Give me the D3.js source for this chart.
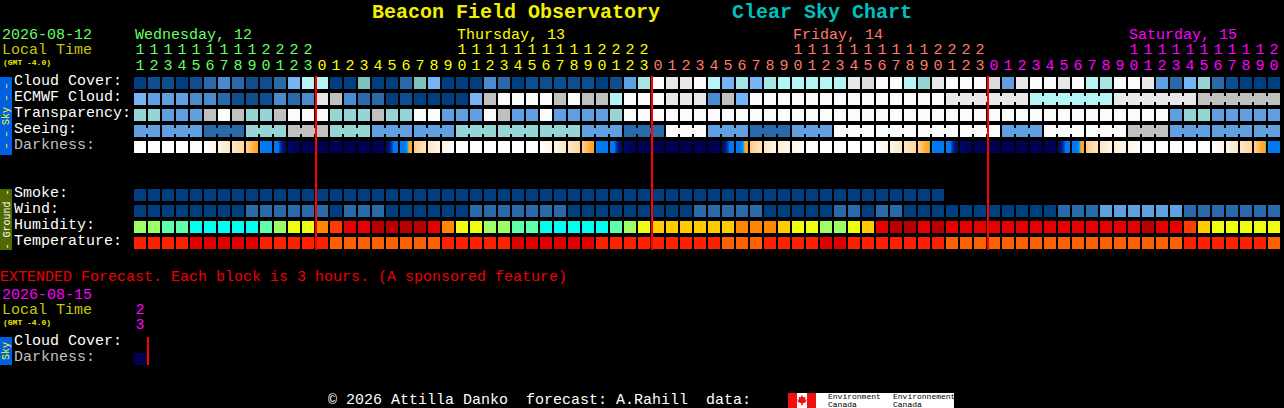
<!DOCTYPE html>
<html><head><meta charset="utf-8">
<script src="https://cdn.jsdelivr.net/npm/d3@7"></script>
<style>
html,body{margin:0;padding:0;background:#000;overflow:hidden}
svg{display:block}
text{font-family:"Liberation Mono",monospace;font-size:15px;white-space:pre}
</style></head><body><div id="c"></div>
<script>
// ---- categories and text
const skyLabels=["Cloud Cover:","ECMWF Cloud:","Transparency:","Seeing:","Darkness:"];
const groundLabels=["Smoke:","Wind:","Humidity:","Temperature:"];
const hours=[11,12,13,14,15,16,17,18,19,20,21,22,23,
 0,1,2,3,4,5,6,7,8,9,10,11,12,13,14,15,16,17,18,19,20,21,22,23,
 0,1,2,3,4,5,6,7,8,9,10,11,12,13,14,15,16,17,18,19,20,21,22,23,
 0,1,2,3,4,5,6,7,8,9,10,11,12,13,14,15,16,17,18,19,20];
const dayNames=["Wednesday, 12","Thursday, 13","Friday, 14","Saturday, 15"];
const dayColumns=[0,23,47,71];
const dayStarts=[0,13,37,61];
const dayColors=["#66ff66","#ffff00","#ff7b6b","#ff00ff"];
const midnightColumns=[13,37,61];

// ---- sky colour levels
const skyLevels=["#003f7f","#0f4f8f","#2a6aaa","#4a8ace","#60a0e0","#75b5f5","#80c0c0","#95d5d5","#a5e5e5","#b5f5f5","#c0c0c0","#dcdcdc","#e8e8e8","#fbfbfb"];

// ---- series (level index per hour)
const cloudCover=[0,1,1,0,1,2,3,2,1,1,2,5,9,9,0,0,6,0,0,2,6,5,0,0,0,3,2,0,1,1,1,1,1,0,1,4,8,13,12,12,13,9,5,8,5,8,9,9,9,9,9,12,
 11,13,13,9,7,12,13,13,13,11,4,12,13,13,12,13,9,8,13,13,12,4,2,5,7,2,1,0,0,0];
const ecmwfCloud=[5,4,4,4,3,3,2,1,1,1,3,2,3,12,10,3,2,2,0,1,0,0,0,0,5,10,13,13,13,13,10,13,10,10,9,13,13,13,12,12,12,3,10,5,13,13,13,13,13,13,13,13,
 13,13,13,13,13,13,12,12,12,12,12,12,9,9,9,9,9,9,12,12,12,12,12,12,10,10,10,10,10,10];
const ecmwfSpans=[1,1,1,1,1,1,1,1,1,1,1,1,1,1,1,1,1,1,1,1,1,1,1,1,1,1,1,1,1,1,1,1,1,1,1,1,1,1,1,1,1,1,1,1,1,1,1,1,1,1,1,1,1,1,1,1,1,1,6,6,6,6];
const transparency=[7,7,4,4,4,10,13,10,7,7,10,13,13,13,7,7,7,10,7,7,13,13,4,4,4,13,10,4,4,13,4,4,4,4,7,
 13,13,13,13,13,13,13,13,13,13,13,13,13,13,13,13,13,13,13,13,13,13,13,13,13,13,13,13,13,13,13,13,13,13,13,13,13,13,13,4,7,7,4,4,4,4,4];
const seeingBlocks=[4,4,2,7,10,7,4,4,7,7,7,4,2,13,4,2,4,13,13,13,13,4,13,13,10,4,4,4];
const seeingSpans=[2,3,3,3,3,3,3,3,3,3,3,3,3,3,3,3,3,3,3,3,3,3,3,3,3,3,3,2];
// darkness at the left and right edge of each hour block
const darkStart=[0,0,0,0,0,0,1,2,2.8,4.7,5.6,9,9.5,9.5,9.5,9.5,9.5,9.5,9,5.6,3,2,1,0,0,0,0,0,0,0,1,2,2.8,4.7,5.6,9,9.5,9.5,9.5,9.5,9.5,9.5,9,5.6,3,2,1.4,1,0,0,0,0,
 0,0,1,2,2.8,4.7,5.6,9,9.5,9.5,9.5,9.5,9.5,9.5,9,5.6,3,2,1.4,1,0,0,0,0,0,0,1,2,2.8,4.7];
const darkEnd=[0,0,0,0,0,1,2,2.6,4.35,5.5,9,9.5,9.5,9.5,9.5,9.5,9.5,9.5,5.5,4,2,1,0.4,0,0,0,0,0,0,1,2,2.6,4.4,5.5,9,9.5,9.5,9.5,9.5,9.5,9.5,9.5,5.5,4,2,1,1,0.3,0,0,0,0,
 0,1,2,2.6,4.52,5.5,9,9.5,9.5,9.5,9.5,9.5,9.5,9.5,5.5,4,2,1,1,0.2,0,0,0,0,0,1,2,2.6,4.52,5.5];
const darkLevels=[0,1,2,3,4,4.4,4.5,4.6,4.8,6.8,7.3,8,9,9.5];
const darkColors=["#ffffff","#fff5e6","#ffe6c4","#ffcb85","#ffa626","#ffa626","#30d0a0","#00a8ff","#0078f0","#0078f0","#0a3aa8","#00187a","#000a60","#000055"];
const smoke=[0,0,0,0,0,0,0,0,0,0,0,0,0,0,0,0,0,0,0,0,0,0,0,0,0,0,0,0,0,0,0,0,0,0,0,0,0,0,0,0,0,0,0,0,0,0,0,0,0,0,0,0,0,0,0,0,0,0];
const wind=[0,0,0,0,0,0,0,0,2,2,2,2,2,2,0,2,2,2,0,0,0,0,0,0,2,2,2,2,2,2,2,0,0,0,0,0,0,0,0,0,2,2,2,2,2,0,0,0,0,0,2,2,
 0,2,2,0,0,0,0,0,0,0,0,0,0,0,2,2,2,4,4,4,4,4,4,2,2,2,2,2,2,2];
const humidityColors={L:"#9cff66",M:"#5cffaa",C:"#00ffee",Y:"#eeff10",O:"#ffcc00",o:"#ff8800",r:"#ff3c00",R:"#e60000",D:"#b80000"};
const humidity=["L","L","M","M","C","C","C","C","C","M","L","Y","Y","o","r","R","R","D","D","D","D","R","o","Y","Y","L","L","M","M","C","C","C","C","C","M","L","Y","O","O","O","O","O","O","o","o","o","O","Y","Y","L","L","Y",
 "O","R","D","D","R","D","R","R","R","R","R","R","R","R","R","R","R","R","R","R","D","R","R","r","O","Y","Y","Y","Y","Y"];
const temperatureColors={a:"#ff2000",b:"#e00000",c:"#ff6000"};
const temperature=["a","a","a","a","b","b","b","b","b","a","a","a","a","a","c","c","c","c","c","c","c","c","a","a","a","a","a","b","b","b","b","b","b","a","a","a","a","a","a","a","a","a","c","c","c","a","a","a","a","b","b","a",
 "a","a","a","a","a","a","c","c","c","c","c","c","c","c","c","c","c","c","c","c","c","c","c","a","a","a","a","a","a","c"];
const extendedHours=[23];
const extendedDarkness=[9.5];

// ---- scales
const W=1284,H=408;
const x=d3.scaleLinear().domain([0,82]).range([134,1282]);
const ySky=d3.scaleLinear().domain([0,5]).range([77,157]);
const yGround=d3.scaleLinear().domain([0,4]).range([189,253]);
const cell=12;
const darkScale=d3.scaleLinear().domain(darkLevels).range(darkColors).interpolate(d3.interpolateRgb);
const skyColor=d3.scaleOrdinal().domain(d3.range(skyLevels.length)).range(skyLevels);

const svg=d3.select("#c").append("svg").attr("width",W).attr("height",H).attr("viewBox",[0,0,W,H]);
svg.append("rect").attr("width",W).attr("height",H).attr("fill","#000");
const T=(s,px,py,fill,o={})=>{const t=svg.append("text").attr("x",px).attr("y",py).attr("fill",fill).text(s);
 if(o.size)t.style("font-size",o.size+"px");if(o.weight)t.style("font-weight",o.weight);if(o.anchor)t.attr("text-anchor",o.anchor);return t;};

// title
T("Beacon Field Observatory",372,18,"#f0f000",{size:20,weight:"bold"});
T("Clear Sky Chart",732,18,"#00c0c0",{size:20,weight:"bold"});

// header
T("2026-08-12",2,39,"#66ff66");
T("Local Time",2,54,"#c8c800");
T("(GMT -4.0)",3,65,"#e8e800",{size:8,weight:"bold"});
dayNames.forEach((d,i)=>T(d,x(dayColumns[i])+1,39,dayColors[i]));
const dayOf=c=>d3.bisectRight(dayStarts,c)-1;
svg.append("g").selectAll("text").data(hours.map((h,c)=>({h,c})).filter(d=>d.h>=10)).join("text")
 .attr("x",d=>x(d.c)+cell/2).attr("y",54).attr("text-anchor","middle").attr("fill",d=>dayColors[dayOf(d.c)]).text(d=>Math.floor(d.h/10));
svg.append("g").selectAll("text").data(hours.map((h,c)=>({h,c}))).join("text")
 .attr("x",d=>x(d.c)+cell/2).attr("y",70).attr("text-anchor","middle").attr("fill",d=>dayColors[dayOf(d.c)]).text(d=>d.h%10);

// row labels
skyLabels.forEach((s,i)=>T(s,14,ySky(i)+8,i==4?"#c0c0c0":"#ffffff"));
groundLabels.forEach((s,i)=>T(s,14,yGround(i)+8,"#ffffff"));

// side bars
svg.append("rect").attr("x",0).attr("y",77).attr("width",12).attr("height",78).attr("fill","#0060e0");
svg.append("rect").attr("x",0).attr("y",189).attr("width",12).attr("height",61).attr("fill","#506800");
svg.append("text").attr("transform","translate(9,116) rotate(-90)").attr("text-anchor","middle").attr("fill","#ffff00").style("font-size","10px").text("– – Sky – –");
svg.append("text").attr("transform","translate(9.5,219.5) rotate(-90)").attr("text-anchor","middle").attr("fill","#ffffff").style("font-size","10px").text("- Ground -");

// cell rows
const drawRow=(vals,y0,color)=>svg.append("g").selectAll("rect").data(vals).join("rect")
 .attr("x",(d,i)=>x(i)).attr("y",y0).attr("width",cell).attr("height",cell).attr("fill",color);
const expand=(vals,spans)=>vals.flatMap((v,i)=>Array(spans[i]).fill(v));
const seeing=expand(seeingBlocks,seeingSpans);
// connectors between hours of one forecast block
const drawLinks=(vals,spans,y0)=>{let links=[],c=0;spans.forEach(s=>{for(let k=0;k<s-1;k++)links.push(c+k);c+=s;});
 svg.append("g").selectAll("rect").data(links).join("rect").attr("x",d=>x(d)+cell).attr("y",y0+3).attr("width",x(1)-x(0)-cell).attr("height",cell-6).attr("fill",d=>skyColor(vals[d]));};

drawRow(cloudCover,ySky(0),d=>skyColor(d));
drawRow(ecmwfCloud,ySky(1),d=>skyColor(d));
drawLinks(ecmwfCloud,ecmwfSpans,ySky(1));
drawRow(transparency,ySky(2),d=>skyColor(d));
drawRow(seeing,ySky(3),d=>skyColor(d));
drawLinks(seeing,seeingSpans,ySky(3));
// darkness: one gradient per block
const defs=svg.append("defs");
darkStart.forEach((a,i)=>{const b=darkEnd[i],g=defs.append("linearGradient").attr("id","dk"+i);
 d3.range(0,1.001,1/12).forEach(t=>g.append("stop").attr("offset",t).attr("stop-color",darkScale(a+(b-a)*t)));});
svg.append("g").selectAll("rect").data(darkStart).join("rect").attr("x",(d,i)=>x(i)).attr("y",ySky(4)).attr("width",cell).attr("height",cell).attr("fill",(d,i)=>`url(#dk${i})`);

drawRow(smoke,yGround(0),d=>skyColor(d));
drawRow(wind,yGround(1),d=>skyColor(d));
drawRow(humidity,yGround(2),d=>humidityColors[d]);
drawRow(temperature,yGround(3),d=>temperatureColors[d]);

// midnight lines
svg.append("g").selectAll("rect").data(midnightColumns).join("rect").attr("x",d=>x(d)-1).attr("y",76).attr("width",2).attr("height",174).attr("fill","#ff0000");

// extended forecast
T("EXTENDED Forecast. Each block is 3 hours. (A sponsored feature)",0,281,"#f00000");
T("2026-08-15",2,299,"#ff00ff");
T("Local Time",2,314,"#c8c800");
T("(GMT -4.0)",3,325,"#e8e800",{size:8,weight:"bold"});
extendedHours.forEach((h,i)=>{T(String(Math.floor(h/10)),x(i)+cell/2,314,"#ff00ff",{anchor:"middle"});T(String(h%10),x(i)+cell/2,329,"#ff00ff",{anchor:"middle"});});
svg.append("rect").attr("x",0).attr("y",337).attr("width",12).attr("height",28).attr("fill","#0060e0");
svg.append("text").attr("transform","translate(9,351) rotate(-90)").attr("text-anchor","middle").attr("fill","#ffff00").style("font-size","10px").text("Sky");
T("Cloud Cover:",14,345,"#ffffff");
T("Darkness:",14,361,"#c0c0c0");
svg.append("g").selectAll("rect").data(extendedDarkness).join("rect").attr("x",(d,i)=>x(i)).attr("y",353).attr("width",cell).attr("height",cell).attr("fill",d=>darkScale(d));
svg.append("rect").attr("x",x(1)-1).attr("y",337).attr("width",2).attr("height",28).attr("fill","#ff0000");

// footer
T("© 2026 Attilla Danko  forecast: A.Rahill  data:",328,403.5,"#ffffff");
svg.append("rect").attr("x",788).attr("y",393).attr("width",166).attr("height",15).attr("fill","#fff");
svg.append("rect").attr("x",788).attr("y",393).attr("width",9).attr("height",15).attr("fill","#f01010");
svg.append("rect").attr("x",807).attr("y",393).attr("width",9).attr("height",15).attr("fill","#f01010");
svg.append("path").attr("d","M802 395l1.5 2.5 2-.8-.6 3 1.8-.5-1 3-2.9 1v2h-1.6v-2l-2.9-1-1-3 1.8.5-.6-3 2 .8z").attr("fill","#f01010");
[["Environment",828],["Environnement",893]].forEach(([s,px])=>T(s,px,399,"#000",{size:8}));
[["Canada",828],["Canada",893]].forEach(([s,px])=>T(s,px,407,"#000",{size:8}));
</script></body></html>
